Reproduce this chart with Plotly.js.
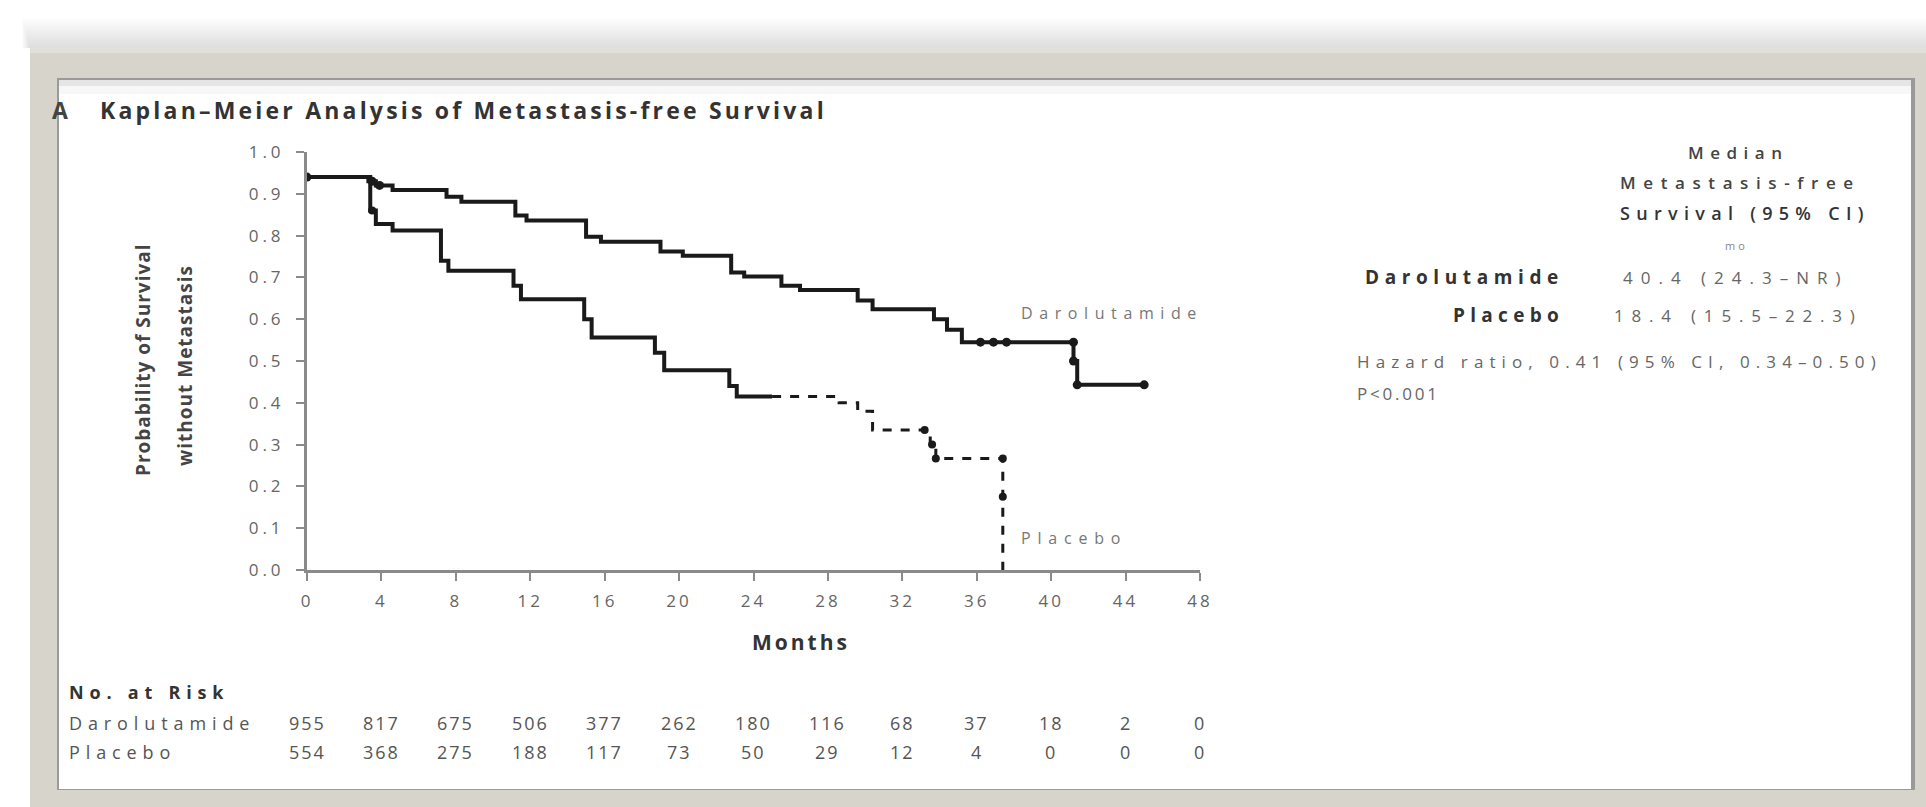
<!DOCTYPE html>
<html>
<head>
<meta charset="utf-8">
<script src="https://cdn.plot.ly/plotly-3.0.1.min.js"></script>
<style>
html,body{margin:0;padding:0;background:#ffffff;}
#chart{width:1926px;height:807px;}
</style>
</head>
<body>
<div id="chart"></div>
<script>
// ---------- data ----------
const daroTime = [0, 3.3, 3.7, 4.6, 7.5, 8.3, 11.2, 11.8, 15.0, 15.8, 19.0, 20.2, 22.8, 23.5, 25.5, 26.5, 29.6, 30.4, 33.7, 34.4, 35.2, 41.2, 41.4, 45.0];
const daroSurv = [0.94, 0.93, 0.92, 0.909, 0.893, 0.881, 0.848, 0.836, 0.797, 0.785, 0.762, 0.752, 0.712, 0.702, 0.68, 0.67, 0.645, 0.624, 0.60, 0.575, 0.545, 0.50, 0.443, 0.443];

const placeboEarlyTime = [0, 3.4, 3.7, 4.6, 7.2, 7.6, 11.1, 11.5, 14.9, 15.3, 18.7, 19.2, 22.7, 23.1, 25.0];
const placeboEarlySurv = [0.94, 0.86, 0.828, 0.812, 0.74, 0.716, 0.68, 0.648, 0.60, 0.556, 0.52, 0.478, 0.44, 0.415, 0.415];

const placeboLateTime = [25.0, 28.6, 29.6, 30.4, 33.5, 33.8, 37.4, 37.4];
const placeboLateSurv = [0.415, 0.40, 0.38, 0.335, 0.30, 0.267, 0.175, 0.0];

const daroCensorTime = [0, 3.5, 3.9, 36.2, 36.9, 37.6, 41.2, 41.2, 41.4, 45.0];
const daroCensorSurv = [0.94, 0.93, 0.92, 0.545, 0.545, 0.545, 0.545, 0.50, 0.443, 0.443];
const placeboCensorTime = [3.5, 33.2, 33.6, 33.8, 37.4, 37.4];
const placeboCensorSurv = [0.86, 0.335, 0.30, 0.267, 0.267, 0.175];

const monthTicks = [0, 4, 8, 12, 16, 20, 24, 28, 32, 36, 40, 44, 48];
const yTicks = [0, 0.1, 0.2, 0.3, 0.4, 0.5, 0.6, 0.7, 0.8, 0.9, 1.0];
const daroRisk = [955, 817, 675, 506, 377, 262, 180, 116, 68, 37, 18, 2, 0];
const placeboRisk = [554, 368, 275, 188, 117, 73, 50, 29, 12, 4, 0, 0, 0];

const groupNames = ["Darolutamide", "Placebo"];
const medianHeader = ["Median", "Metastasis-free", "Survival (95% CI)"];
const medianText = ["40.4 (24.3–NR)", "18.4 (15.5–22.3)"];
const hazardText = "Hazard ratio, 0.41 (95% CI, 0.34–0.50)";
const pText = "P<0.001";

// ---------- layout helpers ----------
const W = 1926, H = 807;
const px = x => x / W;
const py = y => 1 - y / H;
const FONT = "Open Sans, Noto Sans, sans-serif";
const sp = (t, n) => '<span style="letter-spacing:' + n + 'px">' + t + '</span>';

const traces = [
  {x: daroTime, y: daroSurv, type: "scatter", mode: "lines",
   line: {shape: "hv", color: "#1a1a1a", width: 4}, hoverinfo: "skip", showlegend: false},
  {x: placeboEarlyTime, y: placeboEarlySurv, type: "scatter", mode: "lines",
   line: {shape: "hv", color: "#1a1a1a", width: 4}, hoverinfo: "skip", showlegend: false},
  {x: placeboLateTime, y: placeboLateSurv, type: "scatter", mode: "lines",
   line: {shape: "hv", color: "#1a1a1a", width: 3, dash: "dash"}, hoverinfo: "skip", showlegend: false},
  {x: daroCensorTime, y: daroCensorSurv, type: "scatter", mode: "markers",
   marker: {color: "#1a1a1a", size: 9}, hoverinfo: "skip", showlegend: false},
  {x: placeboCensorTime, y: placeboCensorSurv, type: "scatter", mode: "markers",
   marker: {color: "#1a1a1a", size: 8}, hoverinfo: "skip", showlegend: false}
];

const shapes = [];
// soft shadow above the frame
for (let i = 0; i < 16; i++) {
  shapes.push({type: "rect", xref: "paper", yref: "paper", x0: px(22 + i * 0.5), x1: 1,
    y0: py(48), y1: py(18 + i * 1.8), fillcolor: "rgba(0,0,0,0.008)", line: {width: 0}, layer: "below"});
}
shapes.push(
  // gray frame
  {type: "rect", xref: "paper", yref: "paper", x0: px(30), x1: 1, y0: 0, y1: py(48),
   fillcolor: "#d7d4cc", line: {width: 0}, layer: "below"},
  // frame highlight at the top
  {type: "rect", xref: "paper", yref: "paper", x0: px(30), x1: 1, y0: py(53), y1: py(48),
   fillcolor: "#e2e0da", line: {width: 0}, layer: "below"},
  // white panel shadow edges
  {type: "rect", xref: "paper", yref: "paper", x0: px(57), x1: px(1915), y0: py(790), y1: py(78),
   fillcolor: "#9a9a9a", line: {width: 0}, layer: "below"},
  // white panel
  {type: "rect", xref: "paper", yref: "paper", x0: px(59), x1: px(1911), y0: py(789), y1: py(80),
   fillcolor: "#ffffff", line: {width: 0}, layer: "below"},
  // inner top shadow
  {type: "rect", xref: "paper", yref: "paper", x0: px(59), x1: px(1911), y0: py(86), y1: py(80),
   fillcolor: "rgba(0,0,0,0.07)", line: {width: 0}, layer: "below"},
  {type: "rect", xref: "paper", yref: "paper", x0: px(59), x1: px(1911), y0: py(94), y1: py(80),
   fillcolor: "rgba(0,0,0,0.03)", line: {width: 0}, layer: "below"}
);

const ann = [];
function addText(text, x, y, opts) {
  ann.push(Object.assign({text: text, x: px(x), y: py(y), xref: "paper", yref: "paper",
    showarrow: false, xanchor: "left", yanchor: "middle",
    font: {family: FONT, size: 16, color: "#333"}}, opts || {}));
}

// title
addText("A", 70, 110, {xanchor: "right", font: {family: FONT, size: 23, color: "#444", weight: 700}});
addText(sp("Kaplan–Meier Analysis of Metastasis-free Survival", 3.2), 98, 110,
  {font: {family: FONT, size: 23, color: "#333", weight: 700}});

// y-axis title (two lines)
addText(sp("Probability of Survival", 1), 143, 360,
  {xanchor: "center", textangle: -90, font: {family: FONT, size: 19, color: "#444", weight: 700}});
addText(sp("without Metastasis", 1), 185, 366,
  {xanchor: "center", textangle: -90, font: {family: FONT, size: 19, color: "#444", weight: 700}});

// x-axis title
addText(sp("Months", 3), 801, 642, {xanchor: "center", font: {family: FONT, size: 21, color: "#333", weight: 700}});

// curve labels
addText(sp(groupNames[0], 6.6), 1019, 313, {font: {family: FONT, size: 16, color: "#777"}});
addText(sp(groupNames[1], 6.8), 1019, 538, {font: {family: FONT, size: 16, color: "#777"}});

// number at risk
addText(sp("No. at Risk", 5.8), 67, 692, {font: {family: FONT, size: 18, color: "#333", weight: 700}});
addText(sp(groupNames[0], 5.9), 67, 723, {font: {family: FONT, size: 18, color: "#555"}});
addText(sp(groupNames[1], 5.9), 67, 752, {font: {family: FONT, size: 18, color: "#555"}});
monthTicks.forEach((m, i) => {
  ann.push({text: sp(String(daroRisk[i]), 2), x: m, xref: "x", y: py(723), yref: "paper", showarrow: false,
    xanchor: "center", yanchor: "middle", font: {family: FONT, size: 18, color: "#555"}});
  ann.push({text: sp(String(placeboRisk[i]), 2), x: m, xref: "x", y: py(752), yref: "paper", showarrow: false,
    xanchor: "center", yanchor: "middle", font: {family: FONT, size: 18, color: "#555"}});
});

// right-side summary block
addText(sp(medianHeader[0], 6.5), 1738, 152, {xanchor: "center", font: {family: FONT, size: 17, color: "#444", weight: 600}});
addText(sp(medianHeader[1], 7.6), 1740, 182, {xanchor: "center", font: {family: FONT, size: 17, color: "#444", weight: 600}});
addText(sp(medianHeader[2], 6.3), 1745, 213, {xanchor: "center", font: {family: FONT, size: 18, color: "#333", weight: 600}});
addText(sp("mo", 3), 1736, 245, {xanchor: "center", font: {family: FONT, size: 11, color: "#888"}});
addText(sp(groupNames[0], 5.6), 1566, 277, {xanchor: "right", font: {family: FONT, size: 19, color: "#333", weight: 700}});
addText(sp(groupNames[1], 5.3), 1566, 315, {xanchor: "right", font: {family: FONT, size: 19, color: "#333", weight: 700}});
addText(sp(medianText[0], 8), 1736, 277, {xanchor: "center", font: {family: FONT, size: 17, color: "#666"}});
addText(sp(medianText[1], 7.8), 1738, 315, {xanchor: "center", font: {family: FONT, size: 17, color: "#666"}});
addText(sp(hazardText, 6.1), 1355, 362, {font: {family: FONT, size: 17, color: "#666"}});
addText(sp(pText, 2.8), 1355, 393, {font: {family: FONT, size: 17, color: "#666"}});

const layout = {
  width: W, height: H,
  margin: {l: 0, r: 0, t: 0, b: 0},
  paper_bgcolor: "#ffffff",
  plot_bgcolor: "rgba(0,0,0,0)",
  showlegend: false,
  xaxis: {
    domain: [px(307), px(1200)],
    range: [0, 48], tickvals: monthTicks, ticktext: monthTicks.map(m => sp(String(m), 3)),
    showgrid: false, zeroline: false, showline: true, linecolor: "#8a8a8a", linewidth: 3,
    ticks: "outside", ticklen: 8, tickwidth: 2, tickcolor: "#8a8a8a", ticklabelstandoff: 6,
    tickfont: {family: FONT, size: 17, color: "#666"}, fixedrange: true
  },
  yaxis: {
    domain: [py(570), py(152)],
    range: [0, 1.0], tickvals: yTicks, ticktext: yTicks.map(v => sp(v.toFixed(1), 4)),
    showgrid: false, zeroline: false, showline: true, linecolor: "#8a8a8a", linewidth: 3,
    ticks: "outside", ticklen: 8, tickwidth: 2, tickcolor: "#8a8a8a", ticklabelstandoff: 8,
    tickfont: {family: FONT, size: 17, color: "#666"}, fixedrange: true
  },
  shapes: shapes,
  annotations: ann
};

Plotly.newPlot("chart", traces, layout, {displayModeBar: false, staticPlot: true});
</script>
</body>
</html>
